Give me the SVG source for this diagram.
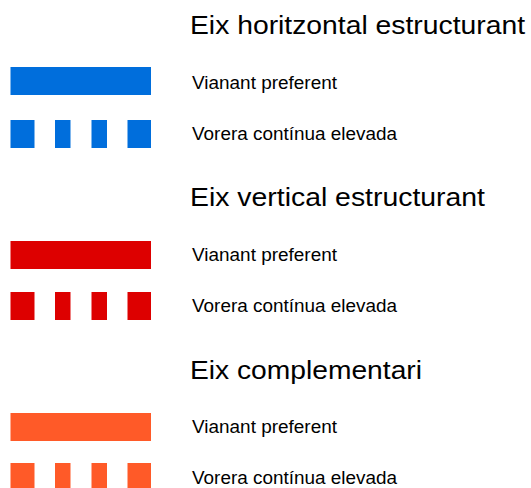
<svg xmlns="http://www.w3.org/2000/svg" width="531" height="488" viewBox="0 0 531 488">
<style>
.h{font-family:"Liberation Sans",Arial,sans-serif;font-size:26px;fill:#000}
.t{font-family:"Liberation Sans",Arial,sans-serif;font-size:17.5px;fill:#000}
.b{fill:#006edc}.r{fill:#dd0000}.o{fill:#ff5a28}
</style>
<rect width="531" height="488" fill="#fff"/>
<g id="horitzontal">
<text class="h" x="190" y="34" textLength="335" lengthAdjust="spacingAndGlyphs">Eix horitzontal estructurant</text>
<g id="h-vianant"><rect class="b" x="10.5" y="67" width="140.5" height="28"/><text class="t" x="192" y="89" textLength="145" lengthAdjust="spacingAndGlyphs">Vianant preferent</text></g>
<g id="h-vorera"><g class="b"><rect x="10.5" y="120" width="24" height="28"/><rect x="55" y="120" width="15.5" height="28"/><rect x="91.5" y="120" width="15.5" height="28"/><rect x="127.5" y="120" width="23.5" height="28"/></g><text class="t" x="192" y="140" textLength="205" lengthAdjust="spacingAndGlyphs">Vorera contínua elevada</text></g>
</g>
<g id="vertical">
<text class="h" x="190" y="206" textLength="295" lengthAdjust="spacingAndGlyphs">Eix vertical estructurant</text>
<g id="v-vianant"><rect class="r" x="10.5" y="241" width="140.5" height="28"/><text class="t" x="192" y="261" textLength="145" lengthAdjust="spacingAndGlyphs">Vianant preferent</text></g>
<g id="v-vorera"><g class="r"><rect x="10.5" y="292" width="24" height="28"/><rect x="55" y="292" width="15.5" height="28"/><rect x="91.5" y="292" width="15.5" height="28"/><rect x="127.5" y="292" width="23.5" height="28"/></g><text class="t" x="192" y="312" textLength="205" lengthAdjust="spacingAndGlyphs">Vorera contínua elevada</text></g>
</g>
<g id="complementari">
<text class="h" x="190" y="379" textLength="232" lengthAdjust="spacingAndGlyphs">Eix complementari</text>
<g id="c-vianant"><rect class="o" x="10.5" y="413" width="140.5" height="28"/><text class="t" x="192" y="433" textLength="145" lengthAdjust="spacingAndGlyphs">Vianant preferent</text></g>
<g id="c-vorera"><g class="o"><rect x="10.5" y="463" width="24" height="28"/><rect x="55" y="463" width="15.5" height="28"/><rect x="91.5" y="463" width="15.5" height="28"/><rect x="127.5" y="463" width="23.5" height="28"/></g><text class="t" x="192" y="484" textLength="205" lengthAdjust="spacingAndGlyphs">Vorera contínua elevada</text></g>
</g>
</svg>
